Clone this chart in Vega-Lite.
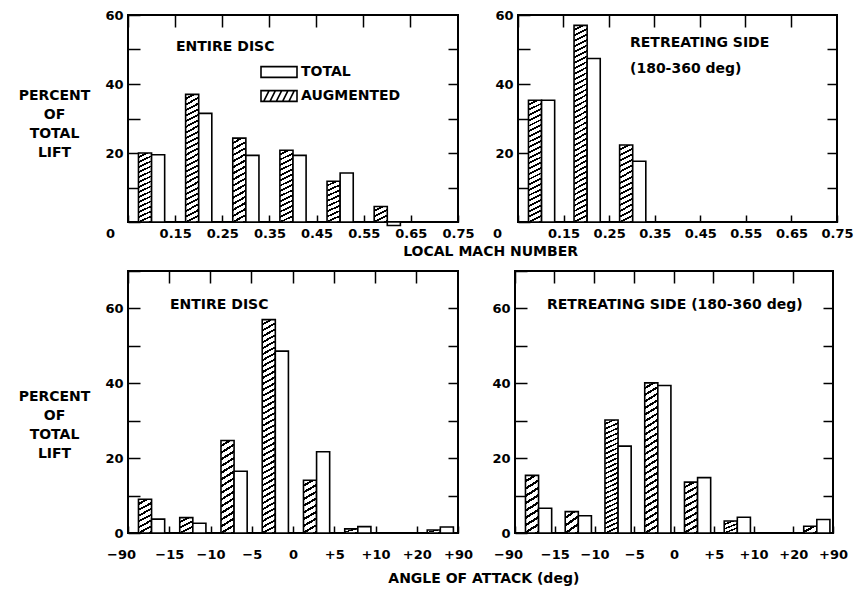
{
"$schema": "https://vega.github.io/schema/vega-lite/v6.json",
"background": "white",
"padding": {"left": 17, "top": 8, "right": 5, "bottom": 5},
"params": [{"name": "hatch", "value": [
{"gradient":"linear","x1":0,"y1":0,"x2":0.035,"y2":1.033,"stops":[{"offset":0,"color":"#fff"},
{"offset":0.0173,"color":"#fff"},{"offset":0.0173,"color":"#000"},{"offset":0.0270,"color":"#000"},{"offset":0.0270,"color":"#fff"},
{"offset":0.0443,"color":"#fff"},{"offset":0.0443,"color":"#000"},{"offset":0.0541,"color":"#000"},{"offset":0.0541,"color":"#fff"},
{"offset":0.0714,"color":"#fff"},{"offset":0.0714,"color":"#000"},{"offset":0.0811,"color":"#000"},{"offset":0.0811,"color":"#fff"},
{"offset":0.0984,"color":"#fff"},{"offset":0.0984,"color":"#000"},{"offset":0.1081,"color":"#000"},{"offset":0.1081,"color":"#fff"},
{"offset":0.1254,"color":"#fff"},{"offset":0.1254,"color":"#000"},{"offset":0.1351,"color":"#000"},{"offset":0.1351,"color":"#fff"},
{"offset":0.1524,"color":"#fff"},{"offset":0.1524,"color":"#000"},{"offset":0.1622,"color":"#000"},{"offset":0.1622,"color":"#fff"},
{"offset":0.1795,"color":"#fff"},{"offset":0.1795,"color":"#000"},{"offset":0.1892,"color":"#000"},{"offset":0.1892,"color":"#fff"},
{"offset":0.2065,"color":"#fff"},{"offset":0.2065,"color":"#000"},{"offset":0.2162,"color":"#000"},{"offset":0.2162,"color":"#fff"},
{"offset":0.2335,"color":"#fff"},{"offset":0.2335,"color":"#000"},{"offset":0.2432,"color":"#000"},{"offset":0.2432,"color":"#fff"},
{"offset":0.2605,"color":"#fff"},{"offset":0.2605,"color":"#000"},{"offset":0.2703,"color":"#000"},{"offset":0.2703,"color":"#fff"},
{"offset":0.2876,"color":"#fff"},{"offset":0.2876,"color":"#000"},{"offset":0.2973,"color":"#000"},{"offset":0.2973,"color":"#fff"},
{"offset":0.3146,"color":"#fff"},{"offset":0.3146,"color":"#000"},{"offset":0.3243,"color":"#000"},{"offset":0.3243,"color":"#fff"},
{"offset":0.3416,"color":"#fff"},{"offset":0.3416,"color":"#000"},{"offset":0.3514,"color":"#000"},{"offset":0.3514,"color":"#fff"},
{"offset":0.3686,"color":"#fff"},{"offset":0.3686,"color":"#000"},{"offset":0.3784,"color":"#000"},{"offset":0.3784,"color":"#fff"},
{"offset":0.3957,"color":"#fff"},{"offset":0.3957,"color":"#000"},{"offset":0.4054,"color":"#000"},{"offset":0.4054,"color":"#fff"},
{"offset":0.4227,"color":"#fff"},{"offset":0.4227,"color":"#000"},{"offset":0.4324,"color":"#000"},{"offset":0.4324,"color":"#fff"},
{"offset":0.4497,"color":"#fff"},{"offset":0.4497,"color":"#000"},{"offset":0.4595,"color":"#000"},{"offset":0.4595,"color":"#fff"},
{"offset":0.4768,"color":"#fff"},{"offset":0.4768,"color":"#000"},{"offset":0.4865,"color":"#000"},{"offset":0.4865,"color":"#fff"},
{"offset":0.5038,"color":"#fff"},{"offset":0.5038,"color":"#000"},{"offset":0.5135,"color":"#000"},{"offset":0.5135,"color":"#fff"},
{"offset":0.5308,"color":"#fff"},{"offset":0.5308,"color":"#000"},{"offset":0.5405,"color":"#000"},{"offset":0.5405,"color":"#fff"},
{"offset":0.5578,"color":"#fff"},{"offset":0.5578,"color":"#000"},{"offset":0.5676,"color":"#000"},{"offset":0.5676,"color":"#fff"},
{"offset":0.5849,"color":"#fff"},{"offset":0.5849,"color":"#000"},{"offset":0.5946,"color":"#000"},{"offset":0.5946,"color":"#fff"},
{"offset":0.6119,"color":"#fff"},{"offset":0.6119,"color":"#000"},{"offset":0.6216,"color":"#000"},{"offset":0.6216,"color":"#fff"},
{"offset":0.6389,"color":"#fff"},{"offset":0.6389,"color":"#000"},{"offset":0.6486,"color":"#000"},{"offset":0.6486,"color":"#fff"},
{"offset":0.6659,"color":"#fff"},{"offset":0.6659,"color":"#000"},{"offset":0.6757,"color":"#000"},{"offset":0.6757,"color":"#fff"},
{"offset":0.6930,"color":"#fff"},{"offset":0.6930,"color":"#000"},{"offset":0.7027,"color":"#000"},{"offset":0.7027,"color":"#fff"},
{"offset":0.7200,"color":"#fff"},{"offset":0.7200,"color":"#000"},{"offset":0.7297,"color":"#000"},{"offset":0.7297,"color":"#fff"},
{"offset":0.7470,"color":"#fff"},{"offset":0.7470,"color":"#000"},{"offset":0.7568,"color":"#000"},{"offset":0.7568,"color":"#fff"},
{"offset":0.7741,"color":"#fff"},{"offset":0.7741,"color":"#000"},{"offset":0.7838,"color":"#000"},{"offset":0.7838,"color":"#fff"},
{"offset":0.8011,"color":"#fff"},{"offset":0.8011,"color":"#000"},{"offset":0.8108,"color":"#000"},{"offset":0.8108,"color":"#fff"},
{"offset":0.8281,"color":"#fff"},{"offset":0.8281,"color":"#000"},{"offset":0.8378,"color":"#000"},{"offset":0.8378,"color":"#fff"},
{"offset":0.8551,"color":"#fff"},{"offset":0.8551,"color":"#000"},{"offset":0.8649,"color":"#000"},{"offset":0.8649,"color":"#fff"},
{"offset":0.8822,"color":"#fff"},{"offset":0.8822,"color":"#000"},{"offset":0.8919,"color":"#000"},{"offset":0.8919,"color":"#fff"},
{"offset":0.9092,"color":"#fff"},{"offset":0.9092,"color":"#000"},{"offset":0.9189,"color":"#000"},{"offset":0.9189,"color":"#fff"},
{"offset":0.9362,"color":"#fff"},{"offset":0.9362,"color":"#000"},{"offset":0.9459,"color":"#000"},{"offset":0.9459,"color":"#fff"},
{"offset":0.9632,"color":"#fff"},{"offset":0.9632,"color":"#000"},{"offset":0.9730,"color":"#000"},{"offset":0.9730,"color":"#fff"},
{"offset":0.9903,"color":"#fff"},{"offset":0.9903,"color":"#000"},{"offset":1,"color":"#000"}]},
{"gradient":"linear","x1":0,"y1":0,"x2":0.056,"y2":1.051,"stops":[{"offset":0,"color":"#fff"},
{"offset":0.0267,"color":"#fff"},{"offset":0.0267,"color":"#000"},{"offset":0.0417,"color":"#000"},{"offset":0.0417,"color":"#fff"},
{"offset":0.0683,"color":"#fff"},{"offset":0.0683,"color":"#000"},{"offset":0.0833,"color":"#000"},{"offset":0.0833,"color":"#fff"},
{"offset":0.1100,"color":"#fff"},{"offset":0.1100,"color":"#000"},{"offset":0.1250,"color":"#000"},{"offset":0.1250,"color":"#fff"},
{"offset":0.1517,"color":"#fff"},{"offset":0.1517,"color":"#000"},{"offset":0.1667,"color":"#000"},{"offset":0.1667,"color":"#fff"},
{"offset":0.1933,"color":"#fff"},{"offset":0.1933,"color":"#000"},{"offset":0.2083,"color":"#000"},{"offset":0.2083,"color":"#fff"},
{"offset":0.2350,"color":"#fff"},{"offset":0.2350,"color":"#000"},{"offset":0.2500,"color":"#000"},{"offset":0.2500,"color":"#fff"},
{"offset":0.2767,"color":"#fff"},{"offset":0.2767,"color":"#000"},{"offset":0.2917,"color":"#000"},{"offset":0.2917,"color":"#fff"},
{"offset":0.3183,"color":"#fff"},{"offset":0.3183,"color":"#000"},{"offset":0.3333,"color":"#000"},{"offset":0.3333,"color":"#fff"},
{"offset":0.3600,"color":"#fff"},{"offset":0.3600,"color":"#000"},{"offset":0.3750,"color":"#000"},{"offset":0.3750,"color":"#fff"},
{"offset":0.4017,"color":"#fff"},{"offset":0.4017,"color":"#000"},{"offset":0.4167,"color":"#000"},{"offset":0.4167,"color":"#fff"},
{"offset":0.4433,"color":"#fff"},{"offset":0.4433,"color":"#000"},{"offset":0.4583,"color":"#000"},{"offset":0.4583,"color":"#fff"},
{"offset":0.4850,"color":"#fff"},{"offset":0.4850,"color":"#000"},{"offset":0.5000,"color":"#000"},{"offset":0.5000,"color":"#fff"},
{"offset":0.5267,"color":"#fff"},{"offset":0.5267,"color":"#000"},{"offset":0.5417,"color":"#000"},{"offset":0.5417,"color":"#fff"},
{"offset":0.5683,"color":"#fff"},{"offset":0.5683,"color":"#000"},{"offset":0.5833,"color":"#000"},{"offset":0.5833,"color":"#fff"},
{"offset":0.6100,"color":"#fff"},{"offset":0.6100,"color":"#000"},{"offset":0.6250,"color":"#000"},{"offset":0.6250,"color":"#fff"},
{"offset":0.6517,"color":"#fff"},{"offset":0.6517,"color":"#000"},{"offset":0.6667,"color":"#000"},{"offset":0.6667,"color":"#fff"},
{"offset":0.6933,"color":"#fff"},{"offset":0.6933,"color":"#000"},{"offset":0.7083,"color":"#000"},{"offset":0.7083,"color":"#fff"},
{"offset":0.7350,"color":"#fff"},{"offset":0.7350,"color":"#000"},{"offset":0.7500,"color":"#000"},{"offset":0.7500,"color":"#fff"},
{"offset":0.7767,"color":"#fff"},{"offset":0.7767,"color":"#000"},{"offset":0.7917,"color":"#000"},{"offset":0.7917,"color":"#fff"},
{"offset":0.8183,"color":"#fff"},{"offset":0.8183,"color":"#000"},{"offset":0.8333,"color":"#000"},{"offset":0.8333,"color":"#fff"},
{"offset":0.8600,"color":"#fff"},{"offset":0.8600,"color":"#000"},{"offset":0.8750,"color":"#000"},{"offset":0.8750,"color":"#fff"},
{"offset":0.9017,"color":"#fff"},{"offset":0.9017,"color":"#000"},{"offset":0.9167,"color":"#000"},{"offset":0.9167,"color":"#fff"},
{"offset":0.9433,"color":"#fff"},{"offset":0.9433,"color":"#000"},{"offset":0.9583,"color":"#000"},{"offset":0.9583,"color":"#fff"},
{"offset":0.9850,"color":"#fff"},{"offset":0.9850,"color":"#000"},{"offset":1,"color":"#000"}]},
{"gradient":"linear","x1":0,"y1":0,"x2":0.095,"y2":1.080,"stops":[{"offset":0,"color":"#fff"},
{"offset":0.0427,"color":"#fff"},{"offset":0.0427,"color":"#000"},{"offset":0.0667,"color":"#000"},{"offset":0.0667,"color":"#fff"},
{"offset":0.1093,"color":"#fff"},{"offset":0.1093,"color":"#000"},{"offset":0.1333,"color":"#000"},{"offset":0.1333,"color":"#fff"},
{"offset":0.1760,"color":"#fff"},{"offset":0.1760,"color":"#000"},{"offset":0.2000,"color":"#000"},{"offset":0.2000,"color":"#fff"},
{"offset":0.2427,"color":"#fff"},{"offset":0.2427,"color":"#000"},{"offset":0.2667,"color":"#000"},{"offset":0.2667,"color":"#fff"},
{"offset":0.3093,"color":"#fff"},{"offset":0.3093,"color":"#000"},{"offset":0.3333,"color":"#000"},{"offset":0.3333,"color":"#fff"},
{"offset":0.3760,"color":"#fff"},{"offset":0.3760,"color":"#000"},{"offset":0.4000,"color":"#000"},{"offset":0.4000,"color":"#fff"},
{"offset":0.4427,"color":"#fff"},{"offset":0.4427,"color":"#000"},{"offset":0.4667,"color":"#000"},{"offset":0.4667,"color":"#fff"},
{"offset":0.5093,"color":"#fff"},{"offset":0.5093,"color":"#000"},{"offset":0.5333,"color":"#000"},{"offset":0.5333,"color":"#fff"},
{"offset":0.5760,"color":"#fff"},{"offset":0.5760,"color":"#000"},{"offset":0.6000,"color":"#000"},{"offset":0.6000,"color":"#fff"},
{"offset":0.6427,"color":"#fff"},{"offset":0.6427,"color":"#000"},{"offset":0.6667,"color":"#000"},{"offset":0.6667,"color":"#fff"},
{"offset":0.7093,"color":"#fff"},{"offset":0.7093,"color":"#000"},{"offset":0.7333,"color":"#000"},{"offset":0.7333,"color":"#fff"},
{"offset":0.7760,"color":"#fff"},{"offset":0.7760,"color":"#000"},{"offset":0.8000,"color":"#000"},{"offset":0.8000,"color":"#fff"},
{"offset":0.8427,"color":"#fff"},{"offset":0.8427,"color":"#000"},{"offset":0.8667,"color":"#000"},{"offset":0.8667,"color":"#fff"},
{"offset":0.9093,"color":"#fff"},{"offset":0.9093,"color":"#000"},{"offset":0.9333,"color":"#000"},{"offset":0.9333,"color":"#fff"},
{"offset":0.9760,"color":"#fff"},{"offset":0.9760,"color":"#000"},{"offset":1,"color":"#000"}]},
{"gradient":"linear","x1":0,"y1":0,"x2":0.16,"y2":1.12,"stops":[{"offset":0,"color":"#fff"},
{"offset":0.0711,"color":"#fff"},{"offset":0.0711,"color":"#000"},{"offset":0.1111,"color":"#000"},{"offset":0.1111,"color":"#fff"},
{"offset":0.1822,"color":"#fff"},{"offset":0.1822,"color":"#000"},{"offset":0.2222,"color":"#000"},{"offset":0.2222,"color":"#fff"},
{"offset":0.2933,"color":"#fff"},{"offset":0.2933,"color":"#000"},{"offset":0.3333,"color":"#000"},{"offset":0.3333,"color":"#fff"},
{"offset":0.4044,"color":"#fff"},{"offset":0.4044,"color":"#000"},{"offset":0.4444,"color":"#000"},{"offset":0.4444,"color":"#fff"},
{"offset":0.5156,"color":"#fff"},{"offset":0.5156,"color":"#000"},{"offset":0.5556,"color":"#000"},{"offset":0.5556,"color":"#fff"},
{"offset":0.6267,"color":"#fff"},{"offset":0.6267,"color":"#000"},{"offset":0.6667,"color":"#000"},{"offset":0.6667,"color":"#fff"},
{"offset":0.7378,"color":"#fff"},{"offset":0.7378,"color":"#000"},{"offset":0.7778,"color":"#000"},{"offset":0.7778,"color":"#fff"},
{"offset":0.8489,"color":"#fff"},{"offset":0.8489,"color":"#000"},{"offset":0.8889,"color":"#000"},{"offset":0.8889,"color":"#fff"},
{"offset":0.9600,"color":"#fff"},{"offset":0.9600,"color":"#000"},{"offset":1,"color":"#000"}]},
{"gradient":"linear","x1":0,"y1":0,"x2":0.241,"y2":1.158,"stops":[{"offset":0,"color":"#fff"},
{"offset":0.0914,"color":"#fff"},{"offset":0.0914,"color":"#000"},{"offset":0.1429,"color":"#000"},{"offset":0.1429,"color":"#fff"},
{"offset":0.2343,"color":"#fff"},{"offset":0.2343,"color":"#000"},{"offset":0.2857,"color":"#000"},{"offset":0.2857,"color":"#fff"},
{"offset":0.3771,"color":"#fff"},{"offset":0.3771,"color":"#000"},{"offset":0.4286,"color":"#000"},{"offset":0.4286,"color":"#fff"},
{"offset":0.5200,"color":"#fff"},{"offset":0.5200,"color":"#000"},{"offset":0.5714,"color":"#000"},{"offset":0.5714,"color":"#fff"},
{"offset":0.6629,"color":"#fff"},{"offset":0.6629,"color":"#000"},{"offset":0.7143,"color":"#000"},{"offset":0.7143,"color":"#fff"},
{"offset":0.8057,"color":"#fff"},{"offset":0.8057,"color":"#000"},{"offset":0.8571,"color":"#000"},{"offset":0.8571,"color":"#fff"},
{"offset":0.9486,"color":"#fff"},{"offset":0.9486,"color":"#000"},{"offset":1,"color":"#000"}]},
{"gradient":"linear","x1":0,"y1":0,"x2":0.52,"y2":1.207,"stops":[{"offset":0,"color":"#fff"},
{"offset":0.16,"color":"#fff"},{"offset":0.16,"color":"#000"},{"offset":0.25,"color":"#000"},{"offset":0.25,"color":"#fff"},
{"offset":0.41,"color":"#fff"},{"offset":0.41,"color":"#000"},{"offset":0.5,"color":"#000"},{"offset":0.5,"color":"#fff"},
{"offset":0.66,"color":"#fff"},{"offset":0.66,"color":"#000"},{"offset":0.75,"color":"#000"},{"offset":0.75,"color":"#fff"},
{"offset":0.91,"color":"#fff"},{"offset":0.91,"color":"#000"},{"offset":1,"color":"#000"}]},
{"gradient":"linear","x1":0,"y1":0,"x2":1,"y2":1,"stops":[{"offset":0,"color":"#fff"},
{"offset":0.32,"color":"#fff"},{"offset":0.32,"color":"#000"},{"offset":0.5,"color":"#000"},{"offset":0.5,"color":"#fff"},
{"offset":0.82,"color":"#fff"},{"offset":0.82,"color":"#000"},{"offset":1,"color":"#000"}]}
]}],
"config": {
  "font": "DejaVu Sans",
  "view": {"stroke": "black", "strokeWidth": 2},
  "axis": {"labelFont": "DejaVu Sans", "labelFontWeight": "bold", "labelFontSize": 13, "labelColor": "black", "tickColor": "black", "tickWidth": 1.5, "domain": false, "grid": false, "labelFlush": false, "titleFont": "DejaVu Sans", "titleFontWeight": "bold", "titleFontSize": 14, "titleColor": "black"},
  "title": {"font": "DejaVu Sans", "fontWeight": "bold", "fontSize": 14, "color": "black"}
},
"datasets": {"d": [
{"panel":"TL","bin":"0-0.15","series":"AUGMENTED","value":20},
{"panel":"TL","bin":"0-0.15","series":"TOTAL","value":19.5},
{"panel":"TL","bin":"0.15-0.25","series":"AUGMENTED","value":37},
{"panel":"TL","bin":"0.15-0.25","series":"TOTAL","value":31.5},
{"panel":"TL","bin":"0.25-0.35","series":"AUGMENTED","value":24.3},
{"panel":"TL","bin":"0.25-0.35","series":"TOTAL","value":19.3},
{"panel":"TL","bin":"0.35-0.45","series":"AUGMENTED","value":20.8},
{"panel":"TL","bin":"0.35-0.45","series":"TOTAL","value":19.3},
{"panel":"TL","bin":"0.45-0.55","series":"AUGMENTED","value":11.8},
{"panel":"TL","bin":"0.45-0.55","series":"TOTAL","value":14.2},
{"panel":"TL","bin":"0.55-0.65","series":"AUGMENTED","value":4.5},
{"panel":"TL","bin":"0.55-0.65","series":"TOTAL","value":-1},
{"panel":"TR","bin":"0-0.15","series":"AUGMENTED","value":35.3},
{"panel":"TR","bin":"0-0.15","series":"TOTAL","value":35.3},
{"panel":"TR","bin":"0.15-0.25","series":"AUGMENTED","value":57},
{"panel":"TR","bin":"0.15-0.25","series":"TOTAL","value":47.4},
{"panel":"TR","bin":"0.25-0.35","series":"AUGMENTED","value":22.3},
{"panel":"TR","bin":"0.25-0.35","series":"TOTAL","value":17.6},
{"panel":"BL","bin":"-90..-15","series":"AUGMENTED","value":9},
{"panel":"BL","bin":"-90..-15","series":"TOTAL","value":3.7},
{"panel":"BL","bin":"-15..-10","series":"AUGMENTED","value":4.1},
{"panel":"BL","bin":"-15..-10","series":"TOTAL","value":2.6},
{"panel":"BL","bin":"-10..-5","series":"AUGMENTED","value":24.7},
{"panel":"BL","bin":"-10..-5","series":"TOTAL","value":16.5},
{"panel":"BL","bin":"-5..0","series":"AUGMENTED","value":57},
{"panel":"BL","bin":"-5..0","series":"TOTAL","value":48.6},
{"panel":"BL","bin":"0..5","series":"AUGMENTED","value":14.1},
{"panel":"BL","bin":"0..5","series":"TOTAL","value":21.7},
{"panel":"BL","bin":"5..10","series":"AUGMENTED","value":1.1},
{"panel":"BL","bin":"5..10","series":"TOTAL","value":1.7},
{"panel":"BL","bin":"20..90","series":"AUGMENTED","value":0.8},
{"panel":"BL","bin":"20..90","series":"TOTAL","value":1.6},
{"panel":"BR","bin":"-90..-15","series":"AUGMENTED","value":15.4},
{"panel":"BR","bin":"-90..-15","series":"TOTAL","value":6.6},
{"panel":"BR","bin":"-15..-10","series":"AUGMENTED","value":5.7},
{"panel":"BR","bin":"-15..-10","series":"TOTAL","value":4.6},
{"panel":"BR","bin":"-10..-5","series":"AUGMENTED","value":30.2},
{"panel":"BR","bin":"-10..-5","series":"TOTAL","value":23.2},
{"panel":"BR","bin":"-5..0","series":"AUGMENTED","value":40.1},
{"panel":"BR","bin":"-5..0","series":"TOTAL","value":39.4},
{"panel":"BR","bin":"0..5","series":"AUGMENTED","value":13.6},
{"panel":"BR","bin":"0..5","series":"TOTAL","value":14.8},
{"panel":"BR","bin":"5..10","series":"AUGMENTED","value":3.2},
{"panel":"BR","bin":"5..10","series":"TOTAL","value":4.2},
{"panel":"BR","bin":"20..90","series":"AUGMENTED","value":1.8},
{"panel":"BR","bin":"20..90","series":"TOTAL","value":3.6}
]},
"spacing": 10,
"vconcat": [
{
 "spacing": 15,
 "title": {"text": "LOCAL MACH NUMBER", "orient": "bottom", "anchor": "middle", "dx": 55, "offset": 4},
 "hconcat": [
 {
  "width": 330, "height": 207,
  "data": {"name": "d"},
  "transform": [{"filter": "datum.panel == 'TL'"}],
  "title": {"text": "ENTIRE DISC", "anchor": "start", "frame": "group", "offset": -56, "dx": 48, "baseline": "alphabetic"},
  "layer": [
   {
    "mark": {"type": "bar", "stroke": "black", "strokeWidth": 1.6},
    "encoding": {
     "x": {"field": "bin", "type": "nominal", "scale": {"domain": ["0-0.15","0.15-0.25","0.25-0.35","0.35-0.45","0.45-0.55","0.55-0.65","0.65-0.75"], "paddingInner": 0, "paddingOuter": 0}, "axis": {"orient": "top", "bandPosition": 0, "labels": false, "tickSize": -12, "title": null}},
     "xOffset": {"field": "series", "type": "nominal", "scale": {"domain": ["AUGMENTED","TOTAL"], "paddingInner": 0, "paddingOuter": 0.8}},
     "y": {"field": "value", "type": "quantitative", "scale": {"domain": [0, 60], "nice": false}, "axis": {"orient": "left", "values": [0,10,20,30,40,50,60], "tickSize": -12, "labelPadding": 17, "labelExpr": "datum.value % 20 == 0 && datum.value > 0 ? datum.label : ''", "title": ["PERCENT","OF","TOTAL","LIFT"], "titleAngle": 0, "titleAlign": "center", "titleBaseline": "top", "titleX": -74, "titleY": 73, "titleLineHeight": 19}},
     "fill": {"value": {"expr": "datum.series != 'AUGMENTED' ? 'white' : datum.value >= 45 ? hatch[0] : datum.value >= 30 ? hatch[1] : datum.value >= 18 ? hatch[2] : datum.value >= 10 ? hatch[3] : datum.value >= 6 ? hatch[4] : datum.value >= 2.5 ? hatch[5] : hatch[6]"}}
    }
   },
   {
    "mark": {"type": "point", "clip": true, "filled": false, "color": "black", "strokeWidth": 1.6},
    "encoding": {
     "x": {"datum": -5, "type": "quantitative", "scale": {"domain": [0, 7], "nice": false, "zero": false}, "axis": {"orient": "bottom", "values": [0,1,2,3,4,5,6,7], "tickSize": -7, "labelPadding": 12, "title": null, "labelExpr": "['0','0.15','0.25','0.35','0.45','0.55','0.65','0.75'][datum.value]", "labelOffset": {"condition": {"test": "datum.value == 0", "value": -18}, "value": 0}}},
     "y": {"datum": 0, "type": "quantitative", "scale": {"domain": [0, 60], "nice": false}, "axis": {"orient": "right", "values": [10,20,30,40,50], "labels": false, "tickSize": -10, "title": null}},
     "shape": {"field": "series", "type": "nominal", "scale": {"domain": ["TOTAL","AUGMENTED"], "range": ["M-2,-0.6H2V0.6H-2Z", "M-2,-0.6H2V0.6H-2Z M-1.7,0.6L-1.1,-0.6 M-1.0,0.6L-0.4,-0.6 M-0.3,0.6L0.3,-0.6 M0.4,0.6L1.0,-0.6 M1.1,0.6L1.7,-0.6"]}, "legend": {"orient": "none", "legendX": 141, "legendY": 47, "title": null, "symbolSize": 324, "symbolStrokeWidth": 1.6, "symbolStrokeColor": "black", "symbolOpacity": 1, "labelFont": "DejaVu Sans", "labelFontWeight": "bold", "labelFontSize": 14, "labelColor": "black", "labelOffset": 12, "rowPadding": 5, "padding": 0}}
    }
   }
  ],
  "resolve": {"scale": {"x": "independent"}, "axis": {"x": "independent", "y": "independent"}}
 },
 {
  "width": 319, "height": 207,
  "data": {"name": "d"},
  "transform": [{"filter": "datum.panel == 'TR'"}],
  "title": {"text": ["RETREATING SIDE", "(180-360 deg)"], "anchor": "start", "frame": "group", "offset": -78, "dx": 112, "baseline": "alphabetic", "lineHeight": 26},
  "layer": [
   {
    "mark": {"type": "bar", "stroke": "black", "strokeWidth": 1.6},
    "encoding": {
     "x": {"field": "bin", "type": "nominal", "scale": {"domain": ["0-0.15","0.15-0.25","0.25-0.35","0.35-0.45","0.45-0.55","0.55-0.65","0.65-0.75"], "paddingInner": 0, "paddingOuter": 0}, "axis": {"orient": "top", "bandPosition": 0, "labels": false, "tickSize": -12, "title": null}},
     "xOffset": {"field": "series", "type": "nominal", "scale": {"domain": ["AUGMENTED","TOTAL"], "paddingInner": 0, "paddingOuter": 0.8}},
     "y": {"field": "value", "type": "quantitative", "scale": {"domain": [0, 60], "nice": false}, "axis": {"orient": "left", "values": [0,10,20,30,40,50,60], "tickSize": -12, "labelPadding": 17, "labelExpr": "datum.value % 20 == 0 && datum.value > 0 ? datum.label : ''", "title": null}},
     "fill": {"value": {"expr": "datum.series != 'AUGMENTED' ? 'white' : datum.value >= 45 ? hatch[0] : datum.value >= 30 ? hatch[1] : datum.value >= 18 ? hatch[2] : datum.value >= 10 ? hatch[3] : datum.value >= 6 ? hatch[4] : datum.value >= 2.5 ? hatch[5] : hatch[6]"}}
    }
   },
   {
    "mark": {"type": "point", "size": 0},
    "encoding": {
     "x": {"datum": 0, "type": "quantitative", "scale": {"domain": [0, 7], "nice": false, "zero": false}, "axis": {"orient": "bottom", "values": [0,1,2,3,4,5,6,7], "tickSize": -7, "labelPadding": 12, "title": null, "labelExpr": "['0','0.15','0.25','0.35','0.45','0.55','0.65','0.75'][datum.value]", "labelOffset": {"condition": {"test": "datum.value == 0", "value": -21}, "value": 0}}},
     "y": {"datum": 0, "type": "quantitative", "scale": {"domain": [0, 60], "nice": false}, "axis": {"orient": "right", "values": [10,20,30,40,50], "labels": false, "tickSize": -10, "title": null}}
    }
   }
  ],
  "resolve": {"scale": {"x": "independent"}, "axis": {"x": "independent", "y": "independent"}}
 }
 ]
},
{
 "spacing": 16,
 "title": {"text": "ANGLE OF ATTACK (deg)", "orient": "bottom", "anchor": "middle", "dx": 51, "offset": 10},
 "hconcat": [
 {
  "width": 330, "height": 262,
  "data": {"name": "d"},
  "transform": [{"filter": "datum.panel == 'BL'"}],
  "title": {"text": "ENTIRE DISC", "anchor": "start", "frame": "group", "offset": -53, "dx": 42, "baseline": "alphabetic"},
  "layer": [
   {
    "mark": {"type": "bar", "stroke": "black", "strokeWidth": 1.6},
    "encoding": {
     "x": {"field": "bin", "type": "nominal", "scale": {"domain": ["-90..-15","-15..-10","-10..-5","-5..0","0..5","5..10","10..20","20..90"], "paddingInner": 0, "paddingOuter": 0}, "axis": {"orient": "top", "bandPosition": 0, "labels": false, "tickSize": -12, "title": null}},
     "xOffset": {"field": "series", "type": "nominal", "scale": {"domain": ["AUGMENTED","TOTAL"], "paddingInner": 0, "paddingOuter": 0.8}},
     "y": {"field": "value", "type": "quantitative", "scale": {"domain": [0, 70], "nice": false}, "axis": {"orient": "left", "values": [0,10,20,30,40,50,60,70], "tickSize": -12, "labelPadding": 17, "labelExpr": "datum.value % 20 == 0 ? datum.label : ''", "title": ["PERCENT","OF","TOTAL","LIFT"], "titleAngle": 0, "titleAlign": "center", "titleBaseline": "top", "titleX": -74, "titleY": 118, "titleLineHeight": 19}},
     "fill": {"value": {"expr": "datum.series != 'AUGMENTED' ? 'white' : datum.value >= 45 ? hatch[0] : datum.value >= 30 ? hatch[1] : datum.value >= 18 ? hatch[2] : datum.value >= 10 ? hatch[3] : datum.value >= 6 ? hatch[4] : datum.value >= 2.5 ? hatch[5] : hatch[6]"}}
    }
   },
   {
    "mark": {"type": "point", "size": 0},
    "encoding": {
     "x": {"datum": 0, "type": "quantitative", "scale": {"domain": [0, 8], "nice": false, "zero": false}, "axis": {"orient": "bottom", "values": [0,1,2,3,4,5,6,7,8], "tickSize": -7, "labelPadding": 22, "title": null, "labelExpr": "['−90','−15','−10','−5','0','+5','+10','+20','+90'][datum.value]", "labelOffset": {"condition": {"test": "datum.value == 0", "value": -7}, "value": 0}}},
     "y": {"datum": 0, "type": "quantitative", "scale": {"domain": [0, 70], "nice": false}, "axis": {"orient": "right", "values": [10,20,30,40,50,60], "labels": false, "tickSize": -10, "title": null}}
    }
   }
  ],
  "resolve": {"scale": {"x": "independent"}, "axis": {"x": "independent", "y": "independent"}}
 },
 {
  "width": 318, "height": 262,
  "data": {"name": "d"},
  "transform": [{"filter": "datum.panel == 'BR'"}],
  "title": {"text": "RETREATING SIDE (180-360 deg)", "anchor": "start", "frame": "group", "offset": -53, "dx": 32, "baseline": "alphabetic"},
  "layer": [
   {
    "mark": {"type": "bar", "stroke": "black", "strokeWidth": 1.6},
    "encoding": {
     "x": {"field": "bin", "type": "nominal", "scale": {"domain": ["-90..-15","-15..-10","-10..-5","-5..0","0..5","5..10","10..20","20..90"], "paddingInner": 0, "paddingOuter": 0}, "axis": {"orient": "top", "bandPosition": 0, "labels": false, "tickSize": -12, "title": null}},
     "xOffset": {"field": "series", "type": "nominal", "scale": {"domain": ["AUGMENTED","TOTAL"], "paddingInner": 0, "paddingOuter": 0.8}},
     "y": {"field": "value", "type": "quantitative", "scale": {"domain": [0, 70], "nice": false}, "axis": {"orient": "left", "values": [0,10,20,30,40,50,60,70], "tickSize": -12, "labelPadding": 17, "labelExpr": "datum.value % 20 == 0 ? datum.label : ''", "title": null}},
     "fill": {"value": {"expr": "datum.series != 'AUGMENTED' ? 'white' : datum.value >= 45 ? hatch[0] : datum.value >= 30 ? hatch[1] : datum.value >= 18 ? hatch[2] : datum.value >= 10 ? hatch[3] : datum.value >= 6 ? hatch[4] : datum.value >= 2.5 ? hatch[5] : hatch[6]"}}
    }
   },
   {
    "mark": {"type": "point", "size": 0},
    "encoding": {
     "x": {"datum": 0, "type": "quantitative", "scale": {"domain": [0, 8], "nice": false, "zero": false}, "axis": {"orient": "bottom", "values": [0,1,2,3,4,5,6,7,8], "tickSize": -7, "labelPadding": 22, "title": null, "labelExpr": "['−90','−15','−10','−5','0','+5','+10','+20','+90'][datum.value]", "labelOffset": {"condition": {"test": "datum.value == 0", "value": -7}, "value": 0}}},
     "y": {"datum": 0, "type": "quantitative", "scale": {"domain": [0, 70], "nice": false}, "axis": {"orient": "right", "values": [10,20,30,40,50,60], "labels": false, "tickSize": -10, "title": null}}
    }
   }
  ],
  "resolve": {"scale": {"x": "independent"}, "axis": {"x": "independent", "y": "independent"}}
 }
 ]
}
]
}
